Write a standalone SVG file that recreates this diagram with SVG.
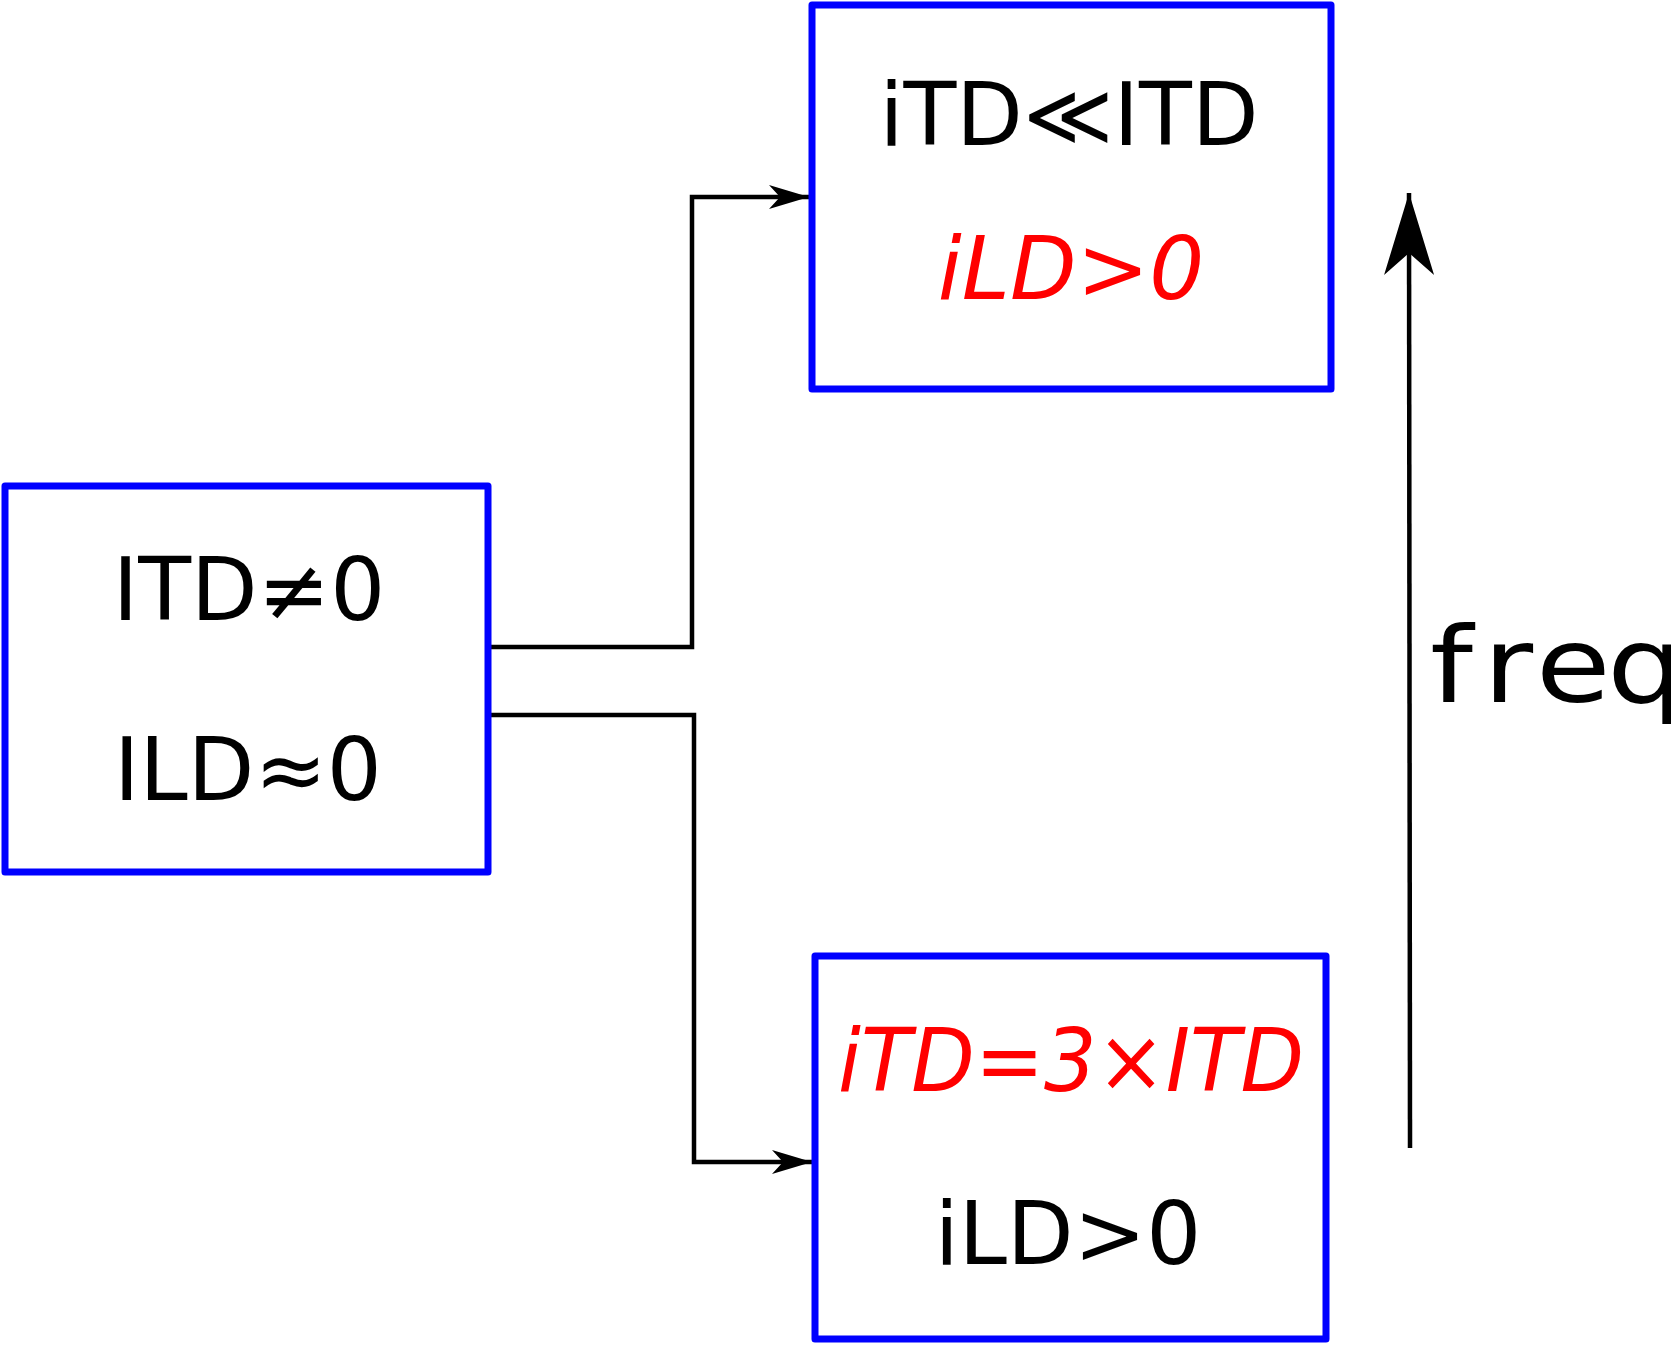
<svg xmlns="http://www.w3.org/2000/svg" width="1671" height="1345" viewBox="0 0 1671 1345">
  <style>
    .box { fill: #ffffff; stroke: #0000ff; stroke-width: 7; stroke-linejoin: round; }
    .conn { fill: none; stroke: #000000; stroke-width: 4.5; }
    .t { font-family: "DejaVu Sans", sans-serif; font-size: 86.5px; text-anchor: middle; fill: #000000; }
    .red { fill: #ff0000; font-style: italic; }
  </style>
  <defs>
    <marker id="arrS" markerUnits="userSpaceOnUse" viewBox="-42 -14 44 28" markerWidth="44" markerHeight="28" refX="0" refY="0" orient="auto">
      <path d="M0,0 L-40,-12 L-29,0 L-40,12 Z" fill="#000000"/>
    </marker>
    <marker id="arrL" markerUnits="userSpaceOnUse" viewBox="-86 -28 88 56" markerWidth="88" markerHeight="56" refX="0" refY="0" orient="auto">
      <path d="M0,0 L-82,-25 L-60,0 L-82,25 Z" fill="#000000"/>
    </marker>
  </defs>
  <rect width="1671" height="1345" fill="#ffffff"/>

  <g id="connectors">
    <polyline class="conn" points="488,647 692,647 692,197 809,197" marker-end="url(#arrS)"/>
    <polyline class="conn" points="488,715 694,715 694,1162 812,1162" marker-end="url(#arrS)"/>
    <line class="conn" x1="1410" y1="1148" x2="1409" y2="193" marker-end="url(#arrL)"/>
  </g>

  <g id="node-source">
    <rect class="box" x="5" y="486" width="483" height="386"/>
    <text class="t" x="249" y="620">ITD≠0</text>
    <text class="t" x="248" y="800">ILD≈0</text>
  </g>

  <g id="node-high">
    <rect class="box" x="812" y="5" width="519" height="384"/>
    <text class="t" x="1069" y="145">iTD≪ITD</text>
    <text class="t red" x="1071" y="299">iLD&gt;0</text>
  </g>

  <g id="node-low">
    <rect class="box" x="815" y="956" width="511" height="383"/>
    <text class="t red" x="1071" y="1091" textLength="466" lengthAdjust="spacingAndGlyphs">iTD=3×ITD</text>
    <text class="t" x="1068" y="1264">iLD&gt;0</text>
  </g>

  <g id="label-freq">
    <text transform="translate(1430,702) scale(1.15,1)" x="0 46 92 154" y="0" font-family="DejaVu Sans, sans-serif" font-size="106" fill="#000000">freq</text>
  </g>
</svg>
